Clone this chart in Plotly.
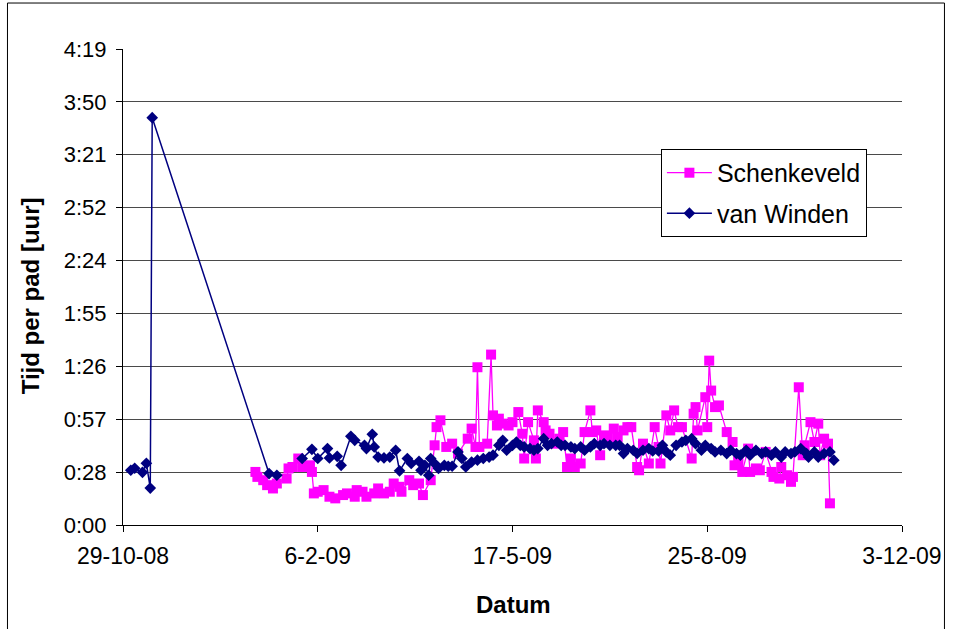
import plotly.graph_objects as go

# ---------------- data ----------------
schenkeveld_dates = [
    "2009-01-05", "2009-01-06", "2009-01-09", "2009-01-11", "2009-01-14", "2009-01-16",
    "2009-01-21", "2009-01-22", "2009-01-24", "2009-01-27", "2009-01-29", "2009-02-02",
    "2009-02-03", "2009-02-04", "2009-02-06", "2009-02-09", "2009-02-12", "2009-02-15",
    "2009-02-19", "2009-02-21", "2009-02-25", "2009-02-26", "2009-03-01", "2009-03-03",
    "2009-03-07", "2009-03-09", "2009-03-12", "2009-03-15", "2009-03-17", "2009-03-20",
    "2009-03-21", "2009-03-25", "2009-03-27", "2009-03-30", "2009-04-01", "2009-04-05",
    "2009-04-07", "2009-04-08", "2009-04-10", "2009-04-13", "2009-04-16", "2009-04-19",
    "2009-04-24", "2009-04-26", "2009-04-28", "2009-04-29", "2009-04-30", "2009-05-04",
    "2009-05-06", "2009-05-07", "2009-05-09", "2009-05-10", "2009-05-12", "2009-05-15",
    "2009-05-17", "2009-05-20", "2009-05-22", "2009-05-23", "2009-05-25", "2009-05-28",
    "2009-05-29", "2009-05-30", "2009-06-02", "2009-06-03", "2009-06-05", "2009-06-08",
    "2009-06-10", "2009-06-12", "2009-06-14", "2009-06-16", "2009-06-18", "2009-06-21",
    "2009-06-23", "2009-06-26", "2009-06-27", "2009-06-29", "2009-07-01", "2009-07-03",
    "2009-07-05", "2009-07-08", "2009-07-10", "2009-07-13", "2009-07-15", "2009-07-17",
    "2009-07-20", "2009-07-21", "2009-07-23", "2009-07-26", "2009-07-29", "2009-07-31",
    "2009-08-01", "2009-08-04", "2009-08-06", "2009-08-08", "2009-08-10", "2009-08-12",
    "2009-08-17", "2009-08-18", "2009-08-19", "2009-08-20", "2009-08-24", "2009-08-25",
    "2009-08-26", "2009-08-27", "2009-08-29", "2009-08-31", "2009-09-04", "2009-09-07",
    "2009-09-08", "2009-09-10", "2009-09-12", "2009-09-15", "2009-09-16", "2009-09-19",
    "2009-09-21", "2009-09-24", "2009-09-27", "2009-09-28", "2009-10-01", "2009-10-02",
    "2009-10-05", "2009-10-07", "2009-10-08", "2009-10-11", "2009-10-13", "2009-10-14",
    "2009-10-17", "2009-10-19", "2009-10-21", "2009-10-22", "2009-10-24", "2009-10-26",
    "2009-10-27",
]
# time per pad in minutes
schenkeveld_minutes = [
    28.9, 26.2, 24.4, 21.7, 19.9, 22.6,
    25.3, 30.8, 31.6, 36.2, 31.6, 32.5,
    28.9, 17.2, 18.1, 19.0, 15.4, 14.5,
    16.3, 17.2, 15.4, 19.0, 18.1, 15.4,
    17.2, 19.9, 17.2, 18.1, 22.6, 20.8,
    18.1, 24.4, 21.7, 22.6, 16.3, 24.4,
    43.4, 53.3, 57.0, 42.5, 44.3, 38.9,
    47.0, 52.5, 42.5, 85.9, 42.5, 44.3,
    92.8, 59.7, 54.2, 57.9, 55.2, 54.2,
    56.0, 61.5, 49.7, 36.2, 56.0, 46.1,
    36.2, 62.4, 56.0, 51.5, 49.7, 44.3,
    47.0, 50.6, 31.6, 36.2, 31.6, 33.5,
    50.6, 62.4, 50.6, 51.5, 38.0, 48.8,
    47.9, 52.5, 47.9, 51.5, 53.3, 53.3,
    31.6, 29.8, 44.3, 33.5, 53.3, 42.5,
    33.5, 59.7, 51.5, 62.4, 53.3, 53.3,
    36.2, 60.6, 64.2, 51.5, 69.6, 53.3,
    89.5, 73.2, 64.2, 65.1, 50.6, 45.2,
    32.5, 34.3, 28.9, 41.6, 28.9, 30.8,
    29.8, 39.8, 28.9, 26.2, 25.3, 31.6,
    27.1, 23.5, 26.2, 75.0, 38.0, 43.4,
    56.0, 45.2, 55.2, 38.0, 47.0, 44.3,
    11.8,
]

vanwinden_dates = [
    "2008-11-02", "2008-11-04", "2008-11-08", "2008-11-10", "2008-11-12", "2008-11-13",
    "2009-01-12", "2009-01-16", "2009-01-22", "2009-01-29", "2009-02-03", "2009-02-06",
    "2009-02-11", "2009-02-12", "2009-02-16", "2009-02-18", "2009-02-23", "2009-02-25",
    "2009-03-02", "2009-03-03", "2009-03-06", "2009-03-07", "2009-03-09", "2009-03-12",
    "2009-03-15", "2009-03-18", "2009-03-20", "2009-03-24", "2009-03-26", "2009-03-30",
    "2009-03-31", "2009-04-02", "2009-04-04", "2009-04-05", "2009-04-07", "2009-04-09",
    "2009-04-12", "2009-04-14", "2009-04-16", "2009-04-19", "2009-04-21", "2009-04-23",
    "2009-04-26", "2009-04-29", "2009-05-02", "2009-05-05", "2009-05-07", "2009-05-10",
    "2009-05-12", "2009-05-14", "2009-05-17", "2009-05-19", "2009-05-21", "2009-05-23",
    "2009-05-26", "2009-05-28", "2009-05-30", "2009-06-02", "2009-06-04", "2009-06-06",
    "2009-06-09", "2009-06-11", "2009-06-13", "2009-06-16", "2009-06-18", "2009-06-21",
    "2009-06-23", "2009-06-26", "2009-06-28", "2009-07-01", "2009-07-03", "2009-07-06",
    "2009-07-09", "2009-07-11", "2009-07-13", "2009-07-15", "2009-07-18", "2009-07-20",
    "2009-07-23", "2009-07-26", "2009-07-28", "2009-07-31", "2009-08-02", "2009-08-04",
    "2009-08-06", "2009-08-09", "2009-08-12", "2009-08-14", "2009-08-17", "2009-08-19",
    "2009-08-22", "2009-08-24", "2009-08-27", "2009-08-29", "2009-09-01", "2009-09-04",
    "2009-09-06", "2009-09-09", "2009-09-11", "2009-09-14", "2009-09-16", "2009-09-19",
    "2009-09-22", "2009-09-24", "2009-09-27", "2009-09-29", "2009-10-02", "2009-10-04",
    "2009-10-07", "2009-10-09", "2009-10-12", "2009-10-15", "2009-10-16", "2009-10-19",
    "2009-10-21", "2009-10-24", "2009-10-27", "2009-10-29",
]
vanwinden_minutes = [
    29.8, 30.9, 28.7, 33.6, 20.1, 221.8,
    28.0, 27.1, None, 36.2, 41.2, 36.2,
    41.6, 36.5, 37.4, 32.5, 48.3, 46.1,
    43.4, 41.6, 49.4, 42.5, 37.0, 36.5,
    37.0, 40.7, 29.5, 36.2, 33.5, 34.7,
    29.8, 32.5, 27.1, 36.2, 33.5, 30.8,
    32.5, 32.0, 32.0, 39.8, 36.2, 31.6,
    34.3, 35.3, 36.2, 37.0, 38.0, 43.4,
    46.1, 40.7, 43.4, 45.2, 43.4, 42.5,
    41.6, 40.7, 41.6, 47.0, 43.4, 44.3,
    45.2, 43.4, 43.4, 42.5, 41.6, 42.5,
    40.7, 42.5, 44.3, 43.4, 44.3, 43.4,
    43.4, 43.4, 38.9, 41.6, 40.7, 39.0,
    40.7, 41.6, 40.3, 40.3, 43.4, 39.8,
    38.0, 43.4, 45.2, 46.1, 47.0, 44.3,
    40.7, 43.4, 41.6, 39.8, 40.7, 38.9,
    40.7, 38.9, 38.0, 40.7, 38.0, 40.7,
    38.9, 39.8, 38.0, 39.8, 37.0, 39.8,
    38.9, 39.8, 41.6, 38.9, 37.0, 39.8,
    37.0, 38.9, 39.8, 35.3,
]

x_tick_dates = ["2008-10-29", "2009-02-06", "2009-05-17", "2009-08-25", "2009-12-03"]
x_tick_labels = ["29-10-08", "6-2-09", "17-5-09", "25-8-09", "3-12-09"]
y_tick_minutes = [0, 28.8, 57.6, 86.4, 115.2, 144.0, 172.8, 201.6, 230.4, 259.2]
y_tick_labels = ["0:00", "0:28", "0:57", "1:26", "1:55", "2:24", "2:52", "3:21", "3:50", "4:19"]

FONT = "Liberation Sans, Arial, sans-serif"

fig = go.Figure()
fig.add_trace(go.Scatter(
    x=schenkeveld_dates, y=schenkeveld_minutes, name="Schenkeveld",
    mode="lines+markers", legendgroup="a",
    line=dict(color="#FF00FF", width=1.3),
    marker=dict(symbol="square", size=10, color="#FF00FF"),
))
fig.add_trace(go.Scatter(
    x=vanwinden_dates, y=vanwinden_minutes, name="van Winden",
    mode="lines+markers", legendgroup="b", connectgaps=False,
    line=dict(color="#000080", width=1.5),
    marker=dict(symbol="diamond", size=9, color="#000080"),
))

fig.update_layout(
    width=954, height=629,
    margin=dict(l=123, r=49, t=49, b=104),
    paper_bgcolor="white", plot_bgcolor="white",
    font=dict(family=FONT, color="black"),
    showlegend=True,
    legend=dict(
        x=0.6905, y=0.790, xanchor="left", yanchor="top",
        bgcolor="white", bordercolor="black", borderwidth=1,
        font=dict(family=FONT, size=25, color="black"),
        itemwidth=45, tracegroupgap=5, traceorder="grouped",
    ),
    xaxis=dict(
        type="date",
        range=[x_tick_dates[0], x_tick_dates[-1]],
        tickmode="array", tickvals=x_tick_dates, ticktext=x_tick_labels,
        ticks="outside", ticklen=6, tickcolor="black", tickwidth=1,
        showline=True, linecolor="black", linewidth=1,
        showgrid=False, zeroline=False,
        tickfont=dict(family=FONT, size=23, color="black"),
        ticklabelstandoff=4,
    ),
    yaxis=dict(
        range=[0, y_tick_minutes[-1]],
        tickmode="array", tickvals=y_tick_minutes, ticktext=y_tick_labels,
        ticks="outside", ticklen=6, tickcolor="black", tickwidth=1,
        showline=True, linecolor="black", linewidth=1,
        showgrid=True, gridcolor="#4a4a4a", gridwidth=1,
        zeroline=False,
        tickfont=dict(family=FONT, size=22, color="black"),
        ticklabelstandoff=5,
    ),
    annotations=[
        dict(text="<b>Tijd per pad [uur]</b>", xref="paper", yref="paper",
             x=-0.119, y=0.481, xanchor="center", yanchor="middle",
             textangle=-90, showarrow=False,
             font=dict(family=FONT, size=24, color="black")),
        dict(text="<b>Datum</b>", xref="paper", yref="paper",
             x=0.501, y=-0.168, xanchor="center", yanchor="middle",
             showarrow=False,
             font=dict(family=FONT, size=24, color="black")),
    ],
    shapes=[
        dict(type="rect", xref="paper", yref="paper",
             x0=-0.1483, x1=1.0545, y0=-0.30, y1=1.0966,
             line=dict(color="black", width=1), fillcolor="rgba(0,0,0,0)",
             layer="below"),
    ],
)

fig.write_html("out.html", include_plotlyjs=True, config={"displayModeBar": False})
